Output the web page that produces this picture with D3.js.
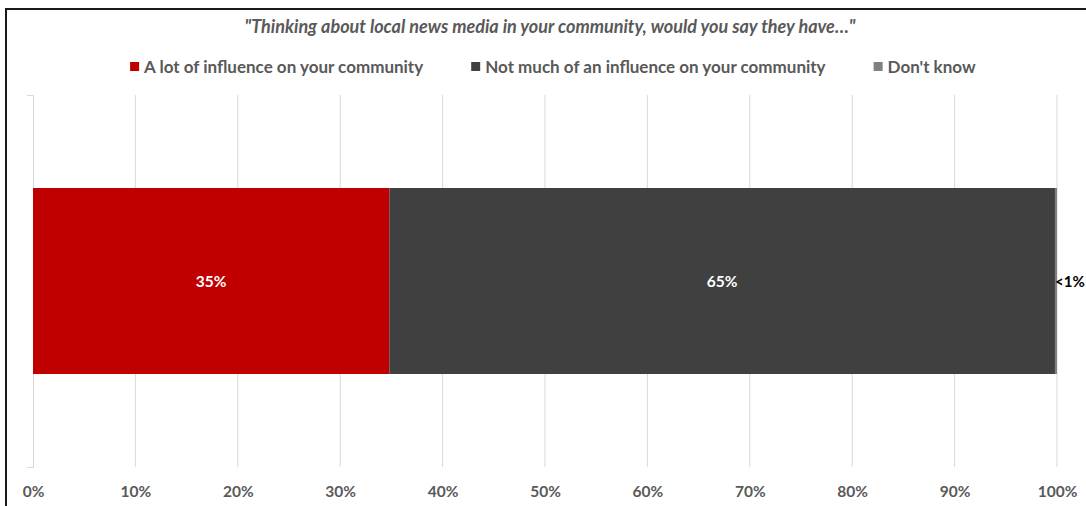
<!DOCTYPE html>
<html>
<head>
<meta charset="utf-8">
<script src="https://cdn.jsdelivr.net/npm/d3@7"></script>
<style>
  html, body { margin: 0; padding: 0; background: #fff; }
  svg { display: block; }
  text { font-family: Lato, "Open Sans", sans-serif; }
</style>
</head>
<body>
<div id="chart"></div>
<script>
// Survey question and response breakdown
const titleText = "\"Thinking about local news media in your community, would you say they have\u2026\"";
const categories = ["Local news media"];
const seriesNames = ["A lot of influence on your community", "Not much of an influence on your community", "Don't know"];
const seriesColors = ["#C00000", "#404040", "#808080"];
const seriesValues = [34.8, 65.0, 0.2];
const valueLabels = ["35%", "65%", "<1%"];
const tickValues = [0, 10, 20, 30, 40, 50, 60, 70, 80, 90, 100];

const W = 1086, H = 506;
const margin = { left: 33, right: 29, top: 95, bottom: 39 };

const svg = d3.select("#chart").append("svg")
  .attr("width", W).attr("height", H);

// outer frame (extends past the right and bottom edges)
svg.append("rect")
  .attr("x", 6).attr("y", 9)
  .attr("width", W + 20).attr("height", H + 20)
  .attr("fill", "none").attr("stroke", "#1a1a1a").attr("stroke-width", 2);

const x = d3.scaleLinear().domain([0, 100]).range([margin.left, W - margin.right]);
const y = d3.scaleBand().domain(categories)
  .range([margin.top, H - margin.bottom]).paddingInner(0.5).paddingOuter(0.25);

// vertical gridlines
svg.append("g")
  .selectAll("line").data(tickValues.slice(1)).join("line")
  .attr("x1", d => x(d)).attr("x2", d => x(d))
  .attr("y1", margin.top).attr("y2", H - margin.bottom)
  .attr("stroke", "#d9d9d9").attr("stroke-width", 1);

// category axis line with outer ticks
const yAxis = d3.axisLeft(y).tickSize(0).tickSizeOuter(6).tickFormat("");
svg.append("g")
  .attr("transform", `translate(${margin.left},0)`)
  .call(yAxis)
  .call(g => g.select(".domain").attr("stroke", "#d9d9d9"));

// value axis labels
const xAxis = d3.axisBottom(x).tickValues(tickValues).tickSize(0).tickFormat(d => d + "%");
svg.append("g")
  .attr("transform", `translate(0,${H - margin.bottom})`)
  .call(xAxis)
  .call(g => g.select(".domain").remove())
  .call(g => g.selectAll("text")
    .attr("dy", 0).attr("y", 30)
    .attr("fill", "#595959")
    .style("font-size", "15.5px").style("font-weight", "bold")
    .style("font-family", "Lato, sans-serif"));

// stacked segments
let acc = 0;
const segs = seriesValues.map((v, i) => {
  const s = { name: seriesNames[i], color: seriesColors[i], x0: acc, x1: acc + v, label: valueLabels[i] };
  acc += v;
  return s;
});

const barY = y(categories[0]), barH = y.bandwidth();
svg.append("g").selectAll("rect").data(segs).join("rect")
  .attr("x", d => x(d.x0)).attr("width", d => x(d.x1) - x(d.x0))
  .attr("y", barY).attr("height", barH)
  .attr("fill", d => d.color);

// value labels
svg.append("g").selectAll("text").data(segs).join("text")
  .attr("x", (d, i) => i < 2 ? (x(d.x0) + x(d.x1)) / 2 : x(d.x1) - 2)
  .attr("y", barY + barH / 2 + 1)
  .attr("dy", "0.35em")
  .attr("text-anchor", (d, i) => i < 2 ? "middle" : "start")
  .attr("fill", (d, i) => i < 2 ? "#ffffff" : "#000000")
  .style("font-size", (d, i) => i < 2 ? "15.5px" : "15px").style("font-weight", "bold")
  .text(d => d.label);

// title
svg.append("text")
  .attr("x", 550).attr("y", 33)
  .attr("text-anchor", "middle")
  .attr("fill", "#595959")
  .style("font-size", "18px").style("font-weight", "bold").style("font-style", "italic")
  .text(titleText);

// legend, laid out left to right and centred
const legend = svg.append("g");
const items = legend.selectAll("g").data(seriesNames).join("g");
items.append("rect")
  .attr("width", 9).attr("height", 9).attr("y", -11)
  .attr("fill", (d, i) => seriesColors[i]);
items.append("text")
  .attr("x", 14).attr("y", 0)
  .attr("fill", "#595959")
  .style("font-size", "17px").style("font-weight", "bold")
  .text(d => d);
let lx = 0;
const gap = 48;
items.each(function () {
  const w = this.getBBox().width;
  d3.select(this).attr("transform", `translate(${lx},0)`);
  lx += w + gap;
});
const totalW = lx - gap;
legend.attr("transform", `translate(${553 - totalW / 2},73)`);
</script>
</body>
</html>
